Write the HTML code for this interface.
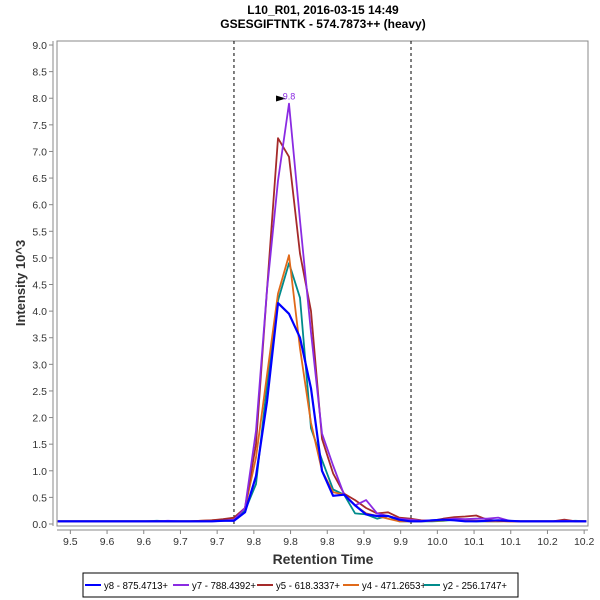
<!DOCTYPE html>
<html><head><meta charset="utf-8"><style>
body{margin:0;background:#fff;}
svg{display:block;font-family:"Liberation Sans",sans-serif;}
</style></head><body>
<svg id="chart" width="600" height="600">
<text x="323" y="14" text-anchor="middle" font-size="12" font-weight="bold">L10_R01, 2016-03-15 14:49</text>
<text x="323" y="28" text-anchor="middle" font-size="12" font-weight="bold">GSESGIFTNTK - 574.7873++ (heavy)</text>
<rect x="57" y="41" width="531" height="485" fill="#fff" stroke="#888"/>
<line x1="53" y1="41" x2="53" y2="526" stroke="#888"/>
<line x1="57" y1="530" x2="588" y2="530" stroke="#888"/>
<g id="yticks"></g><g id="xticks"></g><g id="marks"></g><g id="series"></g>
<text transform="translate(25,283) rotate(-90)" text-anchor="middle" font-size="13" font-weight="bold" fill="#333">Intensity 10^3</text>
<text x="323" y="564" text-anchor="middle" font-size="14" font-weight="bold" fill="#333">Retention Time</text>
<g>
<rect x="83" y="573" width="435" height="24" fill="#fff" stroke="#000"/>
<g id="legend"></g>
</g>
</svg>
<script>
const xTickValues=[9.5005,9.5505,9.6005,9.6505,9.7005,9.7505,9.8005,9.8505,9.9005,9.9505,10.0005,10.0505,10.1005,10.1505,10.2005];
const xTickLabels=["9.5","9.6","9.6","9.7","9.7","9.8","9.8","9.8","9.9","9.9","10.0","10.1","10.1","10.2","10.2"];
const yTickValues=[0,0.5,1,1.5,2,2.5,3,3.5,4,4.5,5,5.5,6,6.5,7,7.5,8,8.5,9];
const rtStart=9.4834, rtStep=0.015;
const boundaries=[9.7234,9.9646];
const seriesNames=["y8 - 875.4713+","y7 - 788.4392+","y5 - 618.3337+","y4 - 471.2653+","y2 - 256.1747+"];
const seriesColors=["#0000ff","#8a2be2","#a52a2a","#e06a1a","#008b8b"];
const pre=[0.05,0.05,0.05,0.05,0.05,0.05,0.05,0.05,0.05,0.05,0.05,0.05,0.05,0.05,0.05,0.06];
const blue=pre.concat([0.06,0.22,0.9,2.3,4.15,3.95,3.5,2.55,1.0,0.53,0.55,0.35,0.18,0.15,0.15,0.08,0.05],[0.05,0.07,0.08,0.07,0.05,0.05,0.06,0.07,0.06,0.05,0.05,0.05,0.05,0.05,0.05,0.05]);
const purple=[0.05,0.05,0.05,0.05,0.05,0.05,0.05,0.05,0.05,0.05,0.06,0.05,0.05,0.05,0.05,0.06].concat([0.08,0.3,1.75,4.4,6.45,7.9,5.7,3.6,1.7,1.1,0.55,0.35,0.45,0.2,0.15,0.1,0.08],[0.06,0.07,0.08,0.1,0.09,0.1,0.1,0.12,0.06,0.05,0.05,0.05,0.05,0.06,0.05,0.05]);
const red=[0.05,0.05,0.05,0.05,0.05,0.05,0.05,0.05,0.05,0.05,0.05,0.05,0.05,0.06,0.07,0.09].concat([0.12,0.3,1.5,4.4,7.25,6.9,5.08,4.0,1.6,0.95,0.57,0.45,0.3,0.2,0.22,0.12,0.1],[0.07,0.06,0.1,0.13,0.14,0.16,0.08,0.06,0.05,0.05,0.05,0.05,0.05,0.08,0.05,0.05]);
const orange=[0.05,0.05,0.05,0.05,0.05,0.05,0.05,0.05,0.05,0.05,0.05,0.05,0.05,0.06,0.07,0.08].concat([0.1,0.3,1.25,2.8,4.33,5.05,3.3,1.9,1.0,0.6,0.55,0.35,0.2,0.15,0.1,0.05,0.05],[0.05,0.06,0.07,0.08,0.07,0.06,0.05,0.05,0.05,0.05,0.05,0.05,0.05,0.05,0.05,0.05]);
const teal=[0.05,0.05,0.05,0.05,0.05,0.05,0.05,0.05,0.05,0.06,0.05,0.05,0.05,0.05,0.06,0.07].concat([0.08,0.25,0.75,2.6,4.2,4.9,4.25,1.8,1.2,0.65,0.55,0.2,0.18,0.1,0.15,0.05,0.05],[0.05,0.05,0.06,0.08,0.06,0.05,0.05,0.05,0.06,0.05,0.05,0.05,0.05,0.05,0.06,0.05]);
const seriesValues=[blue,purple,red,orange,teal];
const peakLabel="9.8", peakValue=7.9, peakIndex=21;

const NS="http://www.w3.org/2000/svg";
function X(rt){return 57+(rt-9.4823)*734;}
function Y(v){return 524-v*53.22;}
function mk(tag,attrs,parent){const e=document.createElementNS(NS,tag);for(const k in attrs)e.setAttribute(k,attrs[k]);parent.appendChild(e);return e;}
const yt=document.getElementById('yticks');
yTickValues.forEach(v=>{
  const l=mk('line',{x1:49,x2:53,y1:Y(v),y2:Y(v),stroke:'#888'},yt);
  
  
  const t=mk('text',{x:47,y:Y(v)+4,'text-anchor':'end','font-size':10.5,fill:'#333'},yt);
  t.textContent=v.toFixed(1);
  
  
});
const xt=document.getElementById('xticks');
xTickValues.forEach((v,i)=>{
  const l=mk('line',{x1:X(v),x2:X(v),y1:530,y2:534,stroke:'#888'},xt);
  
  
  const t=mk('text',{x:X(v),y:545,'text-anchor':'middle','font-size':10.5,fill:'#333'},xt);
  t.textContent=xTickLabels[i];
  
  
});
const mg=document.getElementById('marks');
boundaries.forEach(b=>{
  const l=mk('line',{x1:X(b),x2:X(b),y1:41,y2:526,stroke:'#000','stroke-dasharray':'3,3','stroke-width':1},mg);
  
  
});
const sg=document.getElementById('series');
for(let s=seriesValues.length-1;s>=0;s--){
  const pts=seriesValues[s].map((v,i)=>X(rtStart+i*rtStep).toFixed(1)+','+Y(v).toFixed(1)).join(' ');
  const p=mk('polyline',{points:pts,fill:'none',stroke:seriesColors[s],'stroke-width':s==0?2.2:1.8,'stroke-linejoin':'round'},sg);
  
  
}
const px=X(rtStart+peakIndex*rtStep), py=Y(peakValue);
const tri=mk('polygon',{points:(px-13)+','+(py-8)+' '+(px-3)+','+(py-5)+' '+(px-13)+','+(py-2),fill:'#000'},mg);


const pl=mk('text',{x:px,y:py-4,'text-anchor':'middle','font-size':9,fill:'#8a2be2'},mg);
pl.textContent=peakLabel;


const lg=document.getElementById('legend');
const lx=[85,173,257,343,424];
seriesNames.forEach((n,i)=>{
  const g=mk('g',{},lg);
  
  
  mk('line',{x1:lx[i],x2:lx[i]+16,y1:585,y2:585,stroke:seriesColors[i],'stroke-width':2},g);
  const t=mk('text',{x:lx[i]+19,y:589,'font-size':10.5,fill:'#000',textLength:64,lengthAdjust:'spacingAndGlyphs'},g);
  t.textContent=n;
});
</script>
</body></html>
